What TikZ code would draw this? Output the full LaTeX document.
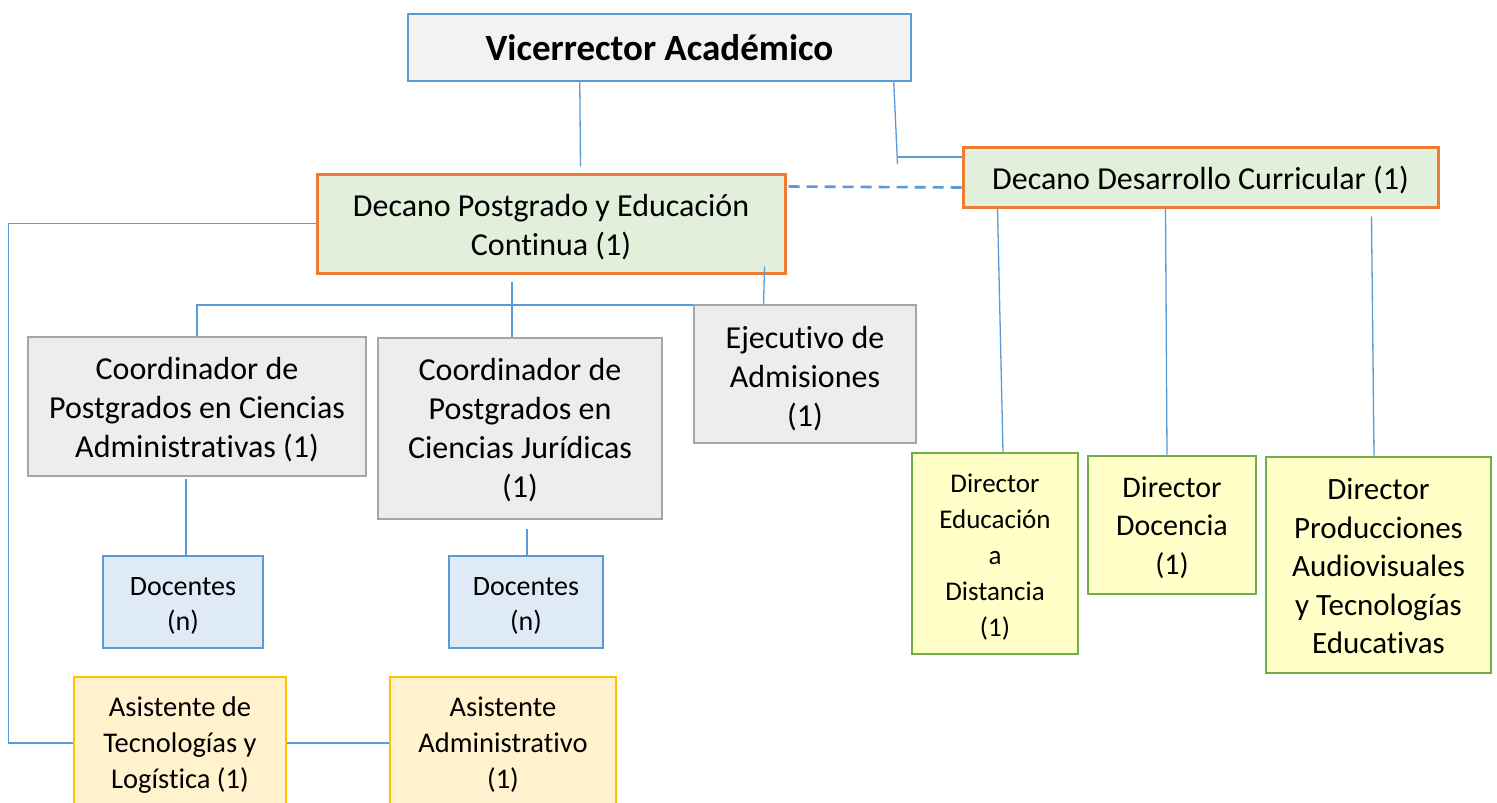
\documentclass[tikz,border=0pt]{standalone}
\usepackage{fontspec}
\setmainfont{Carlito}[Ligatures={NoCommon}]
\usetikzlibrary{calc}
\definecolor{lblue}{HTML}{5B9BD5}
\definecolor{orng}{HTML}{ED7D31}
\definecolor{gfill}{HTML}{E2EFDA}
\definecolor{grfill}{HTML}{EDEDED}
\definecolor{grline}{HTML}{A5A5A5}
\definecolor{vfill}{HTML}{F2F2F2}
\definecolor{bfill}{HTML}{DEEBF7}
\definecolor{yfill}{HTML}{FFF2CC}
\definecolor{yline}{HTML}{FFC000}
\definecolor{dfill}{HTML}{FFFFC7}
\definecolor{dline}{HTML}{70AD47}
\newcommand{\tb}[2][4pt]{\raisebox{-#1}[\height][\depth]{\begin{tabular}{@{}c@{}}#2\end{tabular}}}
\tikzset{
  box/.style={draw, line width=2.8pt, rectangle, inner sep=0pt},
  vbox/.style={box, line width=2.5pt, draw=lblue, fill=vfill, font=\fontsize{37}{44}\selectfont\bfseries},
  obox/.style={box, line width=3pt, draw=orng, fill=gfill, font=\fontsize{32}{39}\selectfont},
  gbox/.style={box, draw=grline, fill=grfill, font=\fontsize{32}{39}\selectfont},
  bbox/.style={box, line width=2.5pt, draw=lblue, fill=bfill, font=\fontsize{28}{35}\selectfont},
  abox/.style={box, draw=yline, fill=yfill, font=\fontsize{28.5}{36}\selectfont},
  dbox/.style={box, draw=dline, fill=dfill},
  conn/.style={draw=lblue, line width=1.3pt},
  dconn/.style={draw=lblue, line width=2.6pt, dash pattern=on 11pt off 7pt}
}
\begin{document}
\begin{tikzpicture}[x=1pt,y=-1pt]
\useasboundingbox[fill=white] (0,0) rectangle (1497,803);
% nodes
\node[vbox, minimum width=503pt, minimum height=67pt] (vr) at (659.5,47.5) {\tb{Vicerrector Académico}};
\node[obox, minimum width=468pt, minimum height=99pt] (dp) at (551,223.5) {\tb[5pt]{Decano Postgrado y Educación\\Continua (1)}};
\node[obox, minimum width=475pt, minimum height=60pt] (dd) at (1200.5,177) {\tb[5pt]{Decano Desarrollo Curricular (1)}};
\node[gbox, minimum width=338pt, minimum height=139pt] (c1) at (197,406.5) {\tb{Coordinador de\\Postgrados en Ciencias\\Administrativas (1)}};
\node[gbox, minimum width=284pt, minimum height=181pt] (c2) at (520,428.5) {\tb[3pt]{Coordinador de\\Postgrados en\\Ciencias Jurídicas\\(1)}};
\node[gbox, minimum width=222pt, minimum height=138pt] (ej) at (805,374) {\tb[6pt]{Ejecutivo de\\Admisiones\\(1)}};
\node[bbox, minimum width=160pt, minimum height=92pt] (d1) at (183,602) {\tb{Docentes\\(n)}};
\node[bbox, minimum width=154pt, minimum height=92pt] (d2) at (526,602) {\tb{Docentes\\(n)}};
\node[abox, minimum width=212pt, minimum height=132pt] (a1) at (180,743) {\tb[2pt]{Asistente de\\Tecnologías y\\Logística (1)}};
\node[abox, minimum width=226pt, minimum height=132pt] (a2) at (503,743) {\tb[2pt]{Asistente\\Administrativo\\(1)}};
\node[dbox, minimum width=166pt, minimum height=201pt, font=\fontsize{27}{36}\selectfont] (r1) at (995,553.5) {\tb{Director\\Educación\\a\\Distancia\\(1)}};
\node[dbox, minimum width=168pt, minimum height=138pt, font=\fontsize{30}{38.5}\selectfont] (r2) at (1172,525) {\tb[3pt]{Director\\Docencia\\(1)}};
\node[dbox, minimum width=225pt, minimum height=216pt, font=\fontsize{31}{38.5}\selectfont] (r3) at (1378.5,565) {\tb{Director\\Producciones\\Audiovisuales\\y Tecnologías\\Educativas}};
% connectors
\draw[conn] ($(vr.south west)+(173,0)$) -- ($(dp.north west)+(265,-6)$);
\draw[conn] ($(vr.south west)+(487,0)$) -- ($(dd.west)+(-64,-13)$);
\draw[conn] ($(dd.west)+(-64,-20)$) -- ($(dd.west)+(0,-20)$);
\draw[dconn] ($(dp.north east)+(2,14)$) -- ($(dd.south west)+(0,-21)$);
\draw[conn] (dp.west) -- ++(-307,0) |- (a1.west);
\draw[conn] ($(c2.north)+(-8,0)$) -- ($(dp.south)+(-39,7)$);
\draw[conn] (c1.north) |- ($(ej.north west)+(0,1.5)$);
\draw[conn] ($(dp.south east)+(-22,-8)$) -- ($(ej.north west)+(71,0)$);
\draw[conn] ($(d1.north)+(3,0)$) -- ($(c1.south)+(-11,2)$);
\draw[conn] ($(d2.north)+(1,0)$) -- ($(c2.south)+(7,9)$);
\draw[conn] (a1.east) -- (a2.west);
\draw[conn] ($(dd.south west)+(36,0)$) -- ($(r1.north)+(8,0)$);
\draw[conn] ($(dd.south west)+(204,0)$) -- ($(r2.north)+(-5,0)$);
\draw[conn] ($(dd.south west)+(410,8)$) -- ($(r3.north)+(-4.5,0)$);
\end{tikzpicture}
\end{document}
